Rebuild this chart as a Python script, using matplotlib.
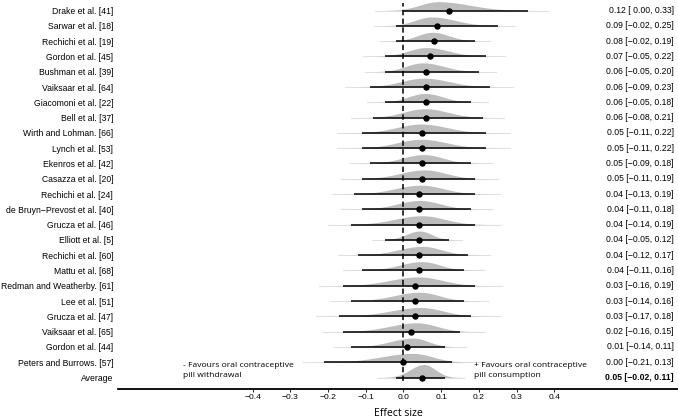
import numpy as np
import matplotlib
matplotlib.use("Agg")
import matplotlib.pyplot as plt

# study-level estimates (top to bottom)
studies = ["Drake et al. [41]", "Sarwar et al. [18]", "Rechichi et al. [19]",
           "Gordon et al. [45]", "Bushman et al. [39]", "Vaiksaar et al. [64]",
           "Giacomoni et al. [22]", "Bell et al. [37]", "Wirth and Lohman. [66]",
           "Lynch et al. [53]", "Ekenros et al. [42]", "Casazza et al. [20]",
           "Rechichi et al. [24]", "de Bruyn\u2212Prevost et al. [40]", "Grucza et al. [46]",
           "Elliott et al. [5]", "Rechichi et al. [60]", "Mattu et al. [68]",
           "Redman and Weatherby. [61]", "Lee et al. [51]", "Grucza et al. [47]",
           "Vaiksaar et al. [65]", "Gordon et al. [44]", "Peters and Burrows. [57]"]
est = [0.12, 0.09, 0.08, 0.07, 0.06, 0.06, 0.06, 0.06, 0.05, 0.05, 0.05, 0.05,
       0.04, 0.04, 0.04, 0.04, 0.04, 0.04, 0.03, 0.03, 0.03, 0.02, 0.01, 0.00]
lo = [0.00, -0.02, -0.02, -0.05, -0.05, -0.09, -0.05, -0.08, -0.11, -0.11, -0.09, -0.11,
      -0.13, -0.11, -0.14, -0.05, -0.12, -0.11, -0.16, -0.14, -0.17, -0.16, -0.14, -0.21]
hi = [0.33, 0.25, 0.19, 0.22, 0.20, 0.23, 0.18, 0.21, 0.22, 0.22, 0.18, 0.19,
      0.19, 0.18, 0.19, 0.12, 0.17, 0.16, 0.19, 0.16, 0.18, 0.15, 0.11, 0.13]
avg_est, avg_lo, avg_hi = 0.05, -0.02, 0.11

xticks = [-0.4, -0.3, -0.2, -0.1, 0.0, 0.1, 0.2, 0.3, 0.4]

SANS = ["Liberation Sans", "DejaVu Sans"]
OPEN = ["Open Sans", "DejaVu Sans"]

fig = plt.figure(figsize=(6.78, 4.19), dpi=100)
ax = fig.add_axes([118 / 678, 30 / 419, 560 / 678, 389 / 419])

n = len(studies)
labels = studies + ["Average"]
e_all = est + [avg_est]
l_all = lo + [avg_lo]
h_all = hi + [avg_hi]
ypos = np.arange(n, -1, -1)  # Drake on top, Average at 0


def two_piece(x, mode, sl, sr):
    s = np.where(x < mode, sl, sr)
    return np.exp(-0.5 * ((x - mode) / s) ** 2)


for i, (e, l, h, y) in enumerate(zip(e_all, l_all, h_all, ypos)):
    is_avg = i == n
    shrink = 1.0 if is_avg else 0.78
    sl = (e - l) / 1.96 * shrink
    sr = (h - e) / 1.96 * shrink
    mode = e - 0.798 * (sr - sl)
    xs = np.linspace(mode - 3.5 * sl, mode + 3.5 * sr, 300)
    peak = 0.85 if is_avg else 0.58
    ax.plot([xs[0], xs[-1]], [y, y], color="#e3e3e3", lw=0.8, zorder=1)
    ax.fill_between(xs, y, y + peak * two_piece(xs, mode, sl, sr),
                    color="#bdbdbd", lw=0, zorder=2)
    ax.plot([l, h], [y, y], color="black", lw=1.1, zorder=4, solid_capstyle="butt")
    ax.plot(e, y, "o", color="black", ms=3.6, zorder=5)
    ax.text(0.717, y, f"{e:.2f} [{l:.2f}, {h:.2f}]".replace("-", "\u2212").replace("[0", "[ 0"),
            ha="right", va="center", fontsize=6.2, family=SANS,
            fontweight="bold" if is_avg else "normal")

ax.vlines(0, -0.2, 24.5, colors="black", linestyles=(0, (3.5, 2.2)), lw=1.1, zorder=3)

ax.text(-0.585, 0.45, "- Favours oral contraceptive\npill withdrawal", ha="left", va="center",
        fontsize=6.1, family=OPEN, linespacing=1.55)
ax.text(0.187, 0.45, "+ Favours oral contraceptive\npill consumption", ha="left", va="center",
        fontsize=6.1, family=OPEN, linespacing=1.55)

ax.set_xlim(-0.757, 0.728)
ax.set_ylim(-0.75, 24.69)
ax.set_yticks(ypos)
ax.set_yticklabels(labels, family=SANS, fontsize=6.2)
ax.tick_params(axis="y", length=0, pad=3.5)
ax.set_xticks(xticks)
ax.set_xticklabels([f"{t:.1f}".replace("-", "\u2212") for t in xticks], family=SANS, fontsize=6.1)
ax.tick_params(axis="x", length=2, width=0.6, pad=1.5)
for s in ["left", "top", "right"]:
    ax.spines[s].set_visible(False)
ax.spines["bottom"].set_linewidth(1.3)
ax.set_xlabel("Effect size", family=OPEN, fontsize=7.6, labelpad=5)

fig.savefig("out.png", dpi=100)
